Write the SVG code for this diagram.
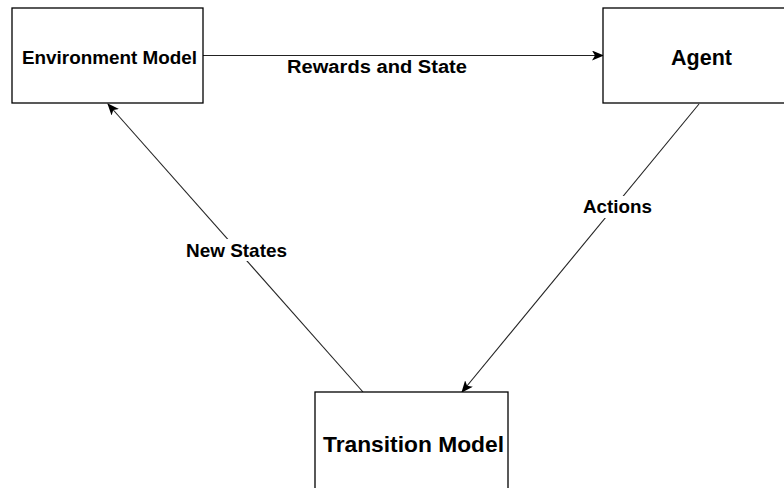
<svg xmlns="http://www.w3.org/2000/svg" width="784" height="488" viewBox="0 0 784 488">
<style>
.box{fill:#fff;stroke:#000;stroke-width:1.3}
.lbl{font-family:"Liberation Sans",Arial,sans-serif;font-weight:bold;fill:#000;text-anchor:middle}
.edge{stroke:#222;stroke-width:1.1;fill:none}
.bg{fill:#fff}
</style>
<defs>
<marker id="arr" viewBox="0 0 12 10" refX="11" refY="5" markerWidth="12" markerHeight="10" markerUnits="userSpaceOnUse" orient="auto">
<path d="M0,0 L12,5 L0,10 L3,5 Z" fill="#000"/>
</marker>
</defs>
<g id="connectors">
<g id="edge-rewards">
<line class="edge" x1="203" y1="55.5" x2="603" y2="55.5" marker-end="url(#arr)"/>
<rect class="bg" x="285" y="56" width="184" height="22"/>
<text class="lbl" x="377" y="73" font-size="18" textLength="180" lengthAdjust="spacingAndGlyphs">Rewards and State</text>
</g>
<g id="edge-actions">
<line class="edge" x1="699" y1="104" x2="462" y2="392" marker-end="url(#arr)"/>
<rect class="bg" x="581" y="196" width="74" height="22"/>
<text class="lbl" x="617.5" y="213" font-size="18.5" textLength="69" lengthAdjust="spacingAndGlyphs">Actions</text>
</g>
<g id="edge-newstates">
<line class="edge" x1="363" y1="392" x2="108" y2="104" marker-end="url(#arr)"/>
<rect class="bg" x="183" y="239" width="108" height="22"/>
<text class="lbl" x="236.5" y="256.5" font-size="19" textLength="101" lengthAdjust="spacingAndGlyphs">New States</text>
</g>
</g>
<g id="node-env">
<rect class="box" x="12" y="8" width="191" height="95"/>
<text class="lbl" x="109.5" y="64" font-size="18" textLength="175" lengthAdjust="spacingAndGlyphs">Environment Model</text>
</g>
<g id="node-agent">
<rect class="box" x="603" y="8" width="196" height="95"/>
<text class="lbl" x="701.5" y="65" font-size="21.5">Agent</text>
</g>
<g id="node-transition">
<rect class="box" x="315" y="392" width="193" height="102"/>
<text class="lbl" x="413.5" y="451.5" font-size="22.5" textLength="181" lengthAdjust="spacingAndGlyphs">Transition Model</text>
</g>
</svg>
